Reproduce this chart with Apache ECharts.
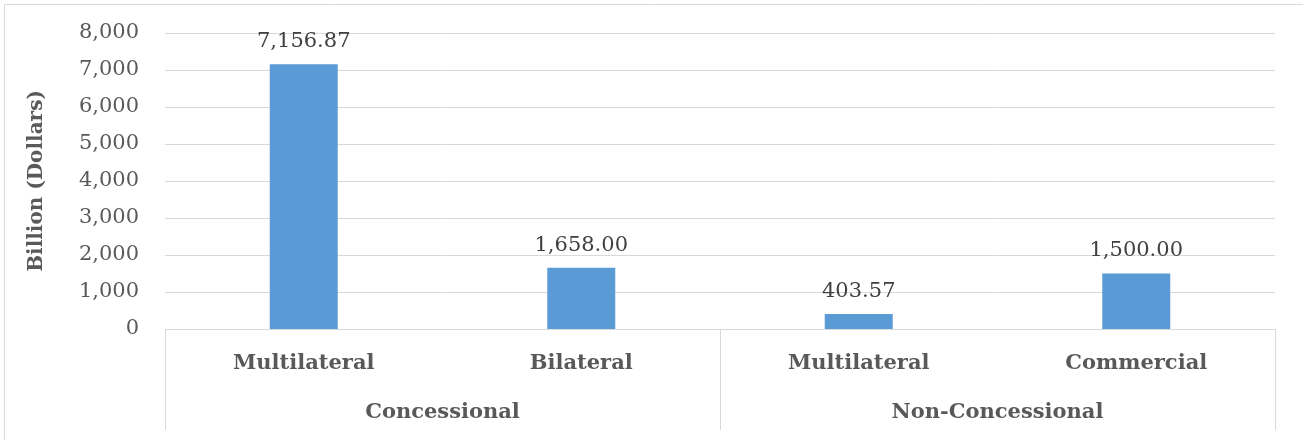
<!DOCTYPE html>
<html>
<head>
<meta charset="utf-8">
<script src="https://cdn.jsdelivr.net/npm/echarts@6/dist/echarts.min.js"></script>
<style>
  html, body { margin: 0; padding: 0; background: #fff; }
  #chart { width: 1303px; height: 440px; }
</style>
</head>
<body>
<div id="chart"></div>
<script>
const sourceTypes = ['Multilateral', 'Bilateral', 'Multilateral', 'Commercial']
const loanGroups = ['Concessional', 'Non-Concessional']
const amounts = [7156.87, 1658.0, 403.57, 1500.0]

const fontFamily = 'DejaVu Serif'
const textColor = '#595959'
const lineColor = '#d9d9d9'

function withCommas(value, digits) {
  return Number(value).toLocaleString('en-US', {
    minimumFractionDigits: digits,
    maximumFractionDigits: digits,
  })
}

const chart = echarts.init(document.getElementById('chart'))
chart.setOption({
  animation: false,
  grid: {
    left: 165,
    right: 28,
    top: 33,
    bottom: 111,
  },
  graphic: [
    {
      type: 'rect',
      shape: { x: 4.5, y: 4.5, width: 1400, height: 500 },
      style: { fill: 'none', stroke: lineColor, lineWidth: 1 },
      silent: true,
    },
  ],
  xAxis: [
    {
      type: 'category',
      data: sourceTypes,
      axisLine: { lineStyle: { color: lineColor } },
      axisTick: { show: false },
      axisLabel: {
        margin: 24,
        color: textColor,
        fontFamily: fontFamily,
        fontSize: 21,
        fontWeight: 'bold',
      },
    },
    {
      type: 'category',
      data: loanGroups,
      position: 'bottom',
      axisLine: { show: false },
      axisTick: {
        show: true,
        length: 101,
        lineStyle: { color: lineColor },
      },
      axisLabel: {
        margin: 73,
        color: textColor,
        fontFamily: fontFamily,
        fontSize: 21,
        fontWeight: 'bold',
      },
    },
  ],
  yAxis: {
    type: 'value',
    min: 0,
    max: 8000,
    interval: 1000,
    name: 'Billion (Dollars)',
    nameLocation: 'middle',
    nameGap: 118,
    nameTextStyle: {
      color: textColor,
      fontFamily: fontFamily,
      fontSize: 20,
      fontWeight: 'bold',
    },
    axisLine: { show: false },
    axisTick: { show: false },
    splitLine: { lineStyle: { color: lineColor } },
    axisLabel: {
      margin: 26,
      color: textColor,
      fontFamily: fontFamily,
      fontSize: 21,
      formatter: (value) => withCommas(value, 0),
    },
  },
  series: [
    {
      type: 'bar',
      xAxisIndex: 0,
      data: amounts,
      barWidth: 68,
      itemStyle: { color: '#5b9bd5' },
      label: {
        show: true,
        position: 'top',
        distance: 12,
        color: '#404040',
        fontFamily: fontFamily,
        fontSize: 21,
        formatter: (params) => withCommas(params.value, 2),
      },
    },
  ],
})
</script>
</body>
</html>
